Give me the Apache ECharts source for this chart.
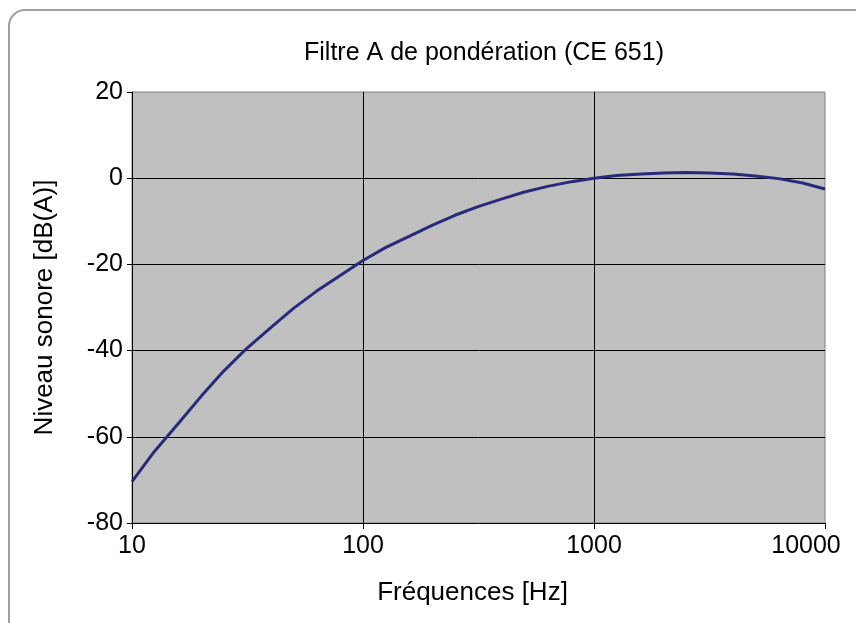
<!DOCTYPE html>
<html>
<head>
<meta charset="utf-8">
<script src="https://cdn.jsdelivr.net/npm/echarts@6/dist/echarts.min.js"></script>
<style>
  html, body { margin: 0; padding: 0; background: #fff; }
  #chart { width: 856px; height: 623px; }
</style>
</head>
<body>
<div id="chart"></div>
<script>
// fréquences en tiers d'octave (Hz)
const frequencies = [10, 12.5, 16, 20, 25, 31.5, 40, 50, 63, 80, 100, 125, 160, 200, 250, 315, 400, 500, 630, 800,
  1000, 1250, 1600, 2000, 2500, 3150, 4000, 5000, 6300, 8000, 10000];
// pondération A (dB)
const levels = [-70.4, -63.4, -56.7, -50.5, -44.7, -39.4, -34.6, -30.2, -26.2, -22.5, -19.1, -16.1, -13.4, -10.9, -8.6, -6.6, -4.8, -3.2, -1.9, -0.8,
  0, 0.6, 1.0, 1.2, 1.3, 1.2, 1.0, 0.5, -0.1, -1.1, -2.5];
const yTicks = [-80, -60, -40, -20, 0, 20];

const chart = echarts.init(document.getElementById("chart"));
const font = "Liberation Sans, Arial, sans-serif";

const option = {
  animation: false,
  backgroundColor: "#fff",
  textStyle: { fontFamily: font },
  graphic: [{
    type: "rect",
    shape: { x: 9, y: 10, width: 880, height: 630, r: 16 },
    style: { fill: "none", stroke: "#a0a0a0", lineWidth: 2 },
    z: -1
  }],
  title: {
    text: "Filtre A de pondération (CE 651)",
    left: 479, top: 36, textAlign: "center",
    textStyle: { fontFamily: font, fontSize: 25, fontWeight: "normal", color: "#000" }
  },
  grid: {
    left: 132, right: 31, top: 92, bottom: 100,
    outerBoundsMode: "none", containLabel: false,
    show: true, backgroundColor: "#c0c0c0", borderColor: "#808080", borderWidth: 1
  },
  xAxis: {
    type: "log", logBase: 10, min: 10, max: 10000,
    name: "Fréquences [Hz]", nameLocation: "middle", nameGap: 57,
    nameTextStyle: { fontFamily: font, fontSize: 26, color: "#000", padding: [0, 12, 0, 0] },
    axisLine: { onZero: false, lineStyle: { color: "#000", width: 1 } },
    axisTick: { show: true, length: 6, inside: false, lineStyle: { color: "#000" } },
    minorTick: { show: false },
    axisLabel: {
      fontFamily: font, fontSize: 25, color: "#000", margin: 11,
      // le dernier libellé est décalé vers la gauche pour rester dans le cadre
      formatter: (v) => (v >= 10000 ? "{last|" + v + "}" : String(v)),
      rich: { last: { fontFamily: font, fontSize: 25, color: "#000", padding: [0, 38, 0, 0] } }
    },
    splitLine: { show: true, showMinLine: false, showMaxLine: false, lineStyle: { color: "#000", width: 1 } }
  },
  yAxis: {
    type: "value", min: yTicks[0], max: yTicks[yTicks.length - 1], interval: 20,
    name: "Niveau sonore [dB(A)]", nameLocation: "middle", nameGap: 74, nameRotate: 90,
    nameTextStyle: { fontFamily: font, fontSize: 26, color: "#000" },
    axisLine: { show: true, onZero: false, lineStyle: { color: "#000", width: 1 } },
    axisTick: { show: true, length: 5, lineStyle: { color: "#000" } },
    axisLabel: { fontFamily: font, fontSize: 25, color: "#000", margin: 9 },
    splitLine: { show: true, showMinLine: false, showMaxLine: false, lineStyle: { color: "#000", width: 1 } }
  },
  series: [{
    type: "line",
    data: frequencies.map((f, i) => [f, levels[i]]),
    showSymbol: false,
    smooth: false,
    lineStyle: { color: "#2a2a7c", width: 3 },
    clip: true
  }]
};

chart.setOption(option);
</script>
</body>
</html>
